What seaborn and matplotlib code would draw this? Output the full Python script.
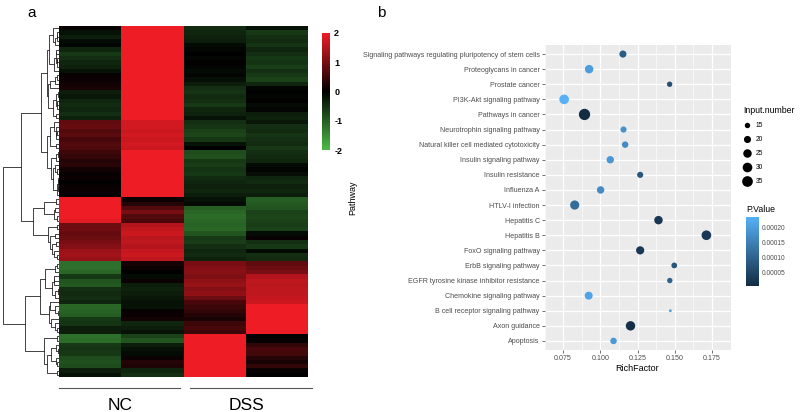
import numpy as np
import pandas as pd
import matplotlib
matplotlib.use('Agg')
import matplotlib.pyplot as plt
import seaborn as sns
from matplotlib.colors import LinearSegmentedColormap, Normalize
from matplotlib.cm import ScalarMappable

# ---- panel a: expression heatmap (z-scores), rows in displayed order ----
nc1 = [0.05, -0.2, -0.3, -0.1, -0.05, -0.4, -0.6, -0.5, -0.4, -0.35, -0.2, 0.05, 0.1, 0.15, 0.2, -0.3, -0.25, -0.4, -0.45, -0.4, -0.5, -0.35,
       0.8, 0.85, 0.7, 0.75, 0.6, 0.7, 0.65, 0.5, 0.45, 0.3, 0.35, 0.15, 0.05, 0.1, 0.0, 0.05, 0.1, 0.05,
       2.0, 2.0, 2.0, 2.0, 2.0, 1.9, 0.9, 0.95, 0.85, 0.9, 1.0, 1.1, 1.3, 1.35, 1.25,
       -1.2, -1.2, -1.1, -0.6, -0.9, -0.95, -0.5, -0.45, -0.5, -0.4, -1.1, -1.05, -1.0, -0.6, -0.55, -0.3, -0.3,
       -1.2, -1.15, -0.6, -0.55, -0.6, -0.8, -0.85, -0.8, -0.3, -0.2]
nc2 = [2.0, 2.0, 2.0, 2.0, 2.0, 2.0, 2.0, 2.0, 2.0, 2.0, 2.0, 2.0, 2.0, 2.0, 2.0, 2.0, 2.0, 2.0, 2.0, 2.0, 2.0, 2.0,
       1.75, 1.75, 1.7, 1.75, 1.7, 1.75, 1.7, 2.0, 2.0, 2.0, 2.0, 2.0, 2.0, 2.0, 2.0, 2.0, 2.0, 2.0,
       0.1, 0.3, 0.7, 1.0, 0.7, 0.6, 1.5, 1.6, 1.7, 1.55, 1.6, 1.5, 1.65, 1.7, 1.6,
       0.2, 0.1, 0.0, -0.1, 0.1, -0.3, -0.35, -0.3, -0.25, -0.2, -0.2, 0.05, 0.1, 0.15, -0.4, -0.3, -0.2,
       -0.7, -0.9, -0.3, -0.2, -0.1, 0.1, 0.3, 0.25, -0.4, -0.5]
dss1 = [-0.45, -0.4, -0.35, -0.3, -0.1, -0.05, 0.0, -0.05, 0.02, -0.05, -0.1, -0.05, -0.15, -0.3, -0.5, -0.55, -0.45, -0.5, -0.6, -0.4, -0.35, -0.2,
        -0.5, -0.55, -0.7, -0.75, -0.6, -0.2, 0.0, -0.8, -0.85, -0.6, -0.65, -0.55, -0.6, -0.45, -0.4, -0.35, -0.4, -0.3,
        -0.2, -0.1, -1.0, -1.1, -1.15, -1.1, -1.05, -1.1, -0.9, -0.6, -0.65, -0.5, -0.4, -0.45, -0.35,
        1.0, 1.1, 1.15, 1.05, 1.2, 1.25, 1.1, 1.2, 0.9, 0.6, 0.5, 0.4, 0.3, 0.2, 0.5, 0.6, 0.5,
        2.0, 2.0, 2.0, 2.0, 2.0, 2.0, 2.0, 2.0, 2.0, 2.0]
dss2 = [-0.2, -0.6, -0.5, -0.45, -0.55, -0.4, -0.5, -0.6, -0.55, -0.65, -0.5, -0.6, -0.7, -0.4, -0.05, 0.0, -0.05, 0.02, -0.1, -0.05, -0.3, -0.35,
        -0.25, -0.5, -0.45, -0.55, -0.5, -0.45, -0.6, -0.5, -0.45, -0.4, -0.1, -0.05, -0.15, -0.4, -0.45, -0.35, -0.4, -0.3,
        -1.0, -0.95, -0.9, -0.7, -0.75, -0.7, -0.65, -0.7, -0.1, 0.05, -0.5, -0.6, -0.1, -0.5, -0.45,
        0.8, 0.9, 1.0, 1.5, 1.6, 1.55, 1.6, 1.6, 1.65, 1.7, 2.0, 2.0, 2.0, 2.0, 2.0, 2.0, 2.0,
        0.0, 0.05, 0.4, 0.6, 0.55, 0.3, 0.2, 0.4, 0.05, 0.0]
groups = ['NC', 'DSS']

# ---- panel b: KEGG enrichment, bottom to top ----
pathways = ['Apoptosis', 'Axon guidance', 'B cell receptor signaling pathway',
            'Chemokine signaling pathway', 'EGFR tyrosine kinase inhibitor resistance',
            'ErbB signaling pathway', 'FoxO signaling pathway', 'Hepatitis B', 'Hepatitis C',
            'HTLV-I infection', 'Influenza A', 'Insulin resistance', 'Insulin signaling pathway',
            'Natural killer cell mediated cytotoxicity', 'Neurotrophin signaling pathway',
            'Pathways in cancer', 'PI3K-Akt signaling pathway', 'Prostate cancer',
            'Proteoglycans in cancer', 'Signaling pathways regulating pluripotency of stem cells']
rich_factor = [0.1089, 0.1203, 0.1471, 0.0922, 0.1467, 0.1497, 0.1268, 0.1713, 0.1391, 0.0828,
               0.1002, 0.1268, 0.1067, 0.1167, 0.1156, 0.0894, 0.0757, 0.1466, 0.0925, 0.1152]
input_number = [18, 29, 10, 23, 15, 16, 24, 30, 25, 28, 21, 17, 21, 18, 17, 38, 30, 15, 25, 20]
p_value = [0.000190, 0.000015, 0.000200, 0.000210, 0.000100, 0.000080, 0.000030, 0.000030, 0.000030, 0.000120,
           0.000170, 0.000080, 0.000190, 0.000170, 0.000180, 0.000007, 0.000235, 0.000070, 0.000200, 0.000090]
size_breaks = [15, 20, 25, 30, 35]
p_breaks = [0.00005, 0.00010, 0.00015, 0.00020]

plt.rcParams['font.family'] = ['Liberation Sans', 'DejaVu Sans']

fig = plt.figure(figsize=(8, 4.12), dpi=100)
W, H = 800, 412


def px_axes(x0, y0, x1, y1):
    return fig.add_axes([x0 / W, 1 - y1 / H, (x1 - x0) / W, (y1 - y0) / H])


# ---------------- panel a ----------------
hm = pd.DataFrame({'NC1': nc1, 'NC2': nc2, 'DSS1': dss1, 'DSS2': dss2})
n_rows = len(hm)
rg = LinearSegmentedColormap.from_list('rg', ['#4cbb47', '#000000', '#ee1c25'])

ax_d = px_axes(0, 26, 59, 377)
ax_h = px_axes(59, 26, 308, 377)
ax_cb = px_axes(322, 33, 330, 150)

sns.heatmap(hm, cmap=rg, vmin=-2, vmax=2, ax=ax_h, cbar_ax=ax_cb,
            xticklabels=False, yticklabels=False)
ax_h.set_xlabel('')
ax_h.set_ylabel('')
ax_cb.set_yticks([2, 1, 0, -1, -2])
ax_cb.set_yticklabels(['2', '1', '0', '-1', '-2'], fontsize=6.5, fontweight='bold')
ax_cb.tick_params(length=0, pad=3)


# row dendrogram: complete linkage, merging only neighbouring clusters so the
# displayed row order is kept
def ordered_linkage(mat):
    dist = np.sqrt(((mat[:, None, :] - mat[None, :, :]) ** 2).sum(-1))
    clusters = [[i] for i in range(len(mat))]
    pos = [i + 0.5 for i in range(len(mat))]
    hgt = [0.0] * len(mat)
    links = []
    while len(clusters) > 1:
        d = [dist[np.ix_(clusters[j], clusters[j + 1])].max() for j in range(len(clusters) - 1)]
        j = int(np.argmin(d))
        links.append((pos[j], hgt[j], pos[j + 1], hgt[j + 1], d[j]))
        clusters[j:j + 2] = [clusters[j] + clusters[j + 1]]
        pos[j:j + 2] = [(pos[j] + pos[j + 1]) / 2]
        hgt[j:j + 2] = [d[j]]
    return links


links = ordered_linkage(hm.values)
for ya, ha, yb, hb, h in links:
    ax_d.plot([ha, h, h, hb], [ya, ya, yb, yb], color='#222222', lw=0.6)
top = max(l[4] for l in links)
ax_d.set_xlim(top * 59 / 56.5, 0)
ax_d.set_ylim(n_rows, 0)
ax_d.axis('off')

# group bars and labels under the heatmap
tr = ax_h.get_xaxis_transform()
ax_h.plot([0, 1.94], [-0.031, -0.031], transform=tr, clip_on=False, color='#555555', lw=0.8)
ax_h.plot([2.1, 4.06], [-0.031, -0.031], transform=tr, clip_on=False, color='#555555', lw=0.8)
ax_h.text(0.98, -0.08, groups[0], transform=tr, ha='center', va='center', fontsize=12.5)
ax_h.text(3.02, -0.08, groups[1], transform=tr, ha='center', va='center', fontsize=12.5)

fig.text(32 / W, 1 - 13 / H, 'a', fontsize=11, ha='center', va='center')
fig.text(381 / W, 1 - 13 / H, 'b', fontsize=11, ha='center', va='center')

# ---------------- panel b ----------------
df = pd.DataFrame({'Pathway': pathways, 'RichFactor': rich_factor,
                   'Input.number': input_number, 'P.Value': p_value})
blue = LinearSegmentedColormap.from_list('gg', ['#132B43', '#56B1F7'])
pnorm = Normalize(min(p_value), max(p_value))
s_range = (4, 66)
n_range = (min(input_number), max(input_number))

ax_b = px_axes(544.5, 45, 730.5, 350)
sns.scatterplot(data=df, x='RichFactor', y='Pathway', hue='P.Value', size='Input.number',
                palette=blue, hue_norm=pnorm, sizes=s_range, size_norm=n_range,
                linewidth=0, legend=False, ax=ax_b, zorder=3)

lo, hi = min(rich_factor), max(rich_factor)
pad = 0.05 * (hi - lo)
ax_b.set_xlim(lo - pad, hi + pad)
ax_b.set_ylim(-0.6, len(pathways) - 0.4)
ax_b.set_xticks([0.075, 0.100, 0.125, 0.150, 0.175])
ax_b.set_xticklabels(['0.075', '0.100', '0.125', '0.150', '0.175'])
ax_b.set_xticks([0.0625, 0.0875, 0.1125, 0.1375, 0.1625, 0.1875], minor=True)
ax_b.set_facecolor('#EBEBEB')
ax_b.set_axisbelow(True)
ax_b.grid(which='major', color='white', lw=0.9)
ax_b.grid(which='minor', axis='x', color='white', lw=0.45)
for sp in ax_b.spines.values():
    sp.set_visible(False)
ax_b.tick_params(which='major', labelsize=5.1, labelcolor='#4D4D4D', color='#333333',
                 length=2, width=0.5, pad=1.5)
ax_b.tick_params(which='minor', length=0)
ax_b.set_xlabel('RichFactor', fontsize=6.5)
ax_b.set_ylabel('Pathway', fontsize=6.5)
ax_b.xaxis.set_label_coords(0.497, -0.045)
ax_b.yaxis.set_label_coords((357 - 544.5) / 186, 0.5)

# size legend
handles = [ax_b.scatter([], [], s=s_range[0] + (v - n_range[0]) / (n_range[1] - n_range[0]) * (s_range[1] - s_range[0]),
                        color='black', linewidths=0) for v in size_breaks]
leg = ax_b.legend(handles, [str(v) for v in size_breaks], title='Input.number',
                  loc='upper left', bbox_to_anchor=(742 / W, 1 - 105 / H), bbox_transform=fig.transFigure,
                  frameon=False, fontsize=4.8, title_fontsize=6.3, labelspacing=1.03,
                  handletextpad=0.6, handlelength=1.2, borderaxespad=0, borderpad=0.2)
leg._legend_box.align = 'left'

# P.Value colour bar
ax_pc = px_axes(745.7, 217, 759, 286)
cb = fig.colorbar(ScalarMappable(norm=pnorm, cmap=blue), cax=ax_pc, ticks=p_breaks)
cb.ax.set_yticklabels(['0.00005', '0.00010', '0.00015', '0.00020'])
cb.outline.set_visible(False)
cb.ax.tick_params(length=0, labelsize=4.8, labelcolor='#4D4D4D', pad=2)
fig.text(746 / W, 1 - 210 / H, 'P.Value', fontsize=6.3, ha='left', va='center')

fig.savefig('out.png', dpi=100)
